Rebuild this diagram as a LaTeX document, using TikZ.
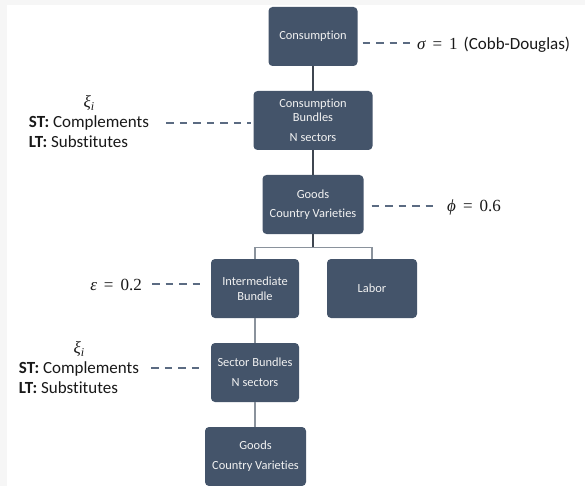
\documentclass[tikz,border=0pt]{standalone}
\usepackage{fontspec}
\setmainfont[Ligatures={NoCommon}]{Carlito}
\newfontfamily\grk{Liberation Serif}
\usetikzlibrary{calc}
\definecolor{boxfill}{HTML}{44546A}
\definecolor{boxtext}{HTML}{F2F2F2}
\definecolor{darkline}{HTML}{3F4650}
\definecolor{greyline}{HTML}{8A929C}
\definecolor{dashcol}{HTML}{5B6B82}
\definecolor{edgegrey}{HTML}{F6F6F6}
\newcommand{\gv}[1]{{\grk\itshape #1}}
\newcommand{\gr}[1]{{\grk #1}}
\newcommand{\eqsign}{\hspace{7pt}\gr{=}\hspace{7pt}}
\tikzset{
  box/.style={draw=none, fill=boxfill, rounded corners=4pt, text=boxtext, align=center,
    inner sep=0pt, minimum height=59pt, font=\fontsize{12.4}{14.5}\selectfont},
  link/.style={draw=darkline, line width=1.2pt},
  linkgrey/.style={draw=greyline, line width=1.2pt},
  anno/.style={inner sep=0pt, font=\fontsize{17}{20}\selectfont, text=black!90},
  dashline/.style={draw=dashcol, line width=1.8pt, dash pattern=on 7.5pt off 6pt},
}
\begin{document}
\begin{tikzpicture}[x=1pt,y=-1pt]
\useasboundingbox (0,0) rectangle (585,486);
\fill[edgegrey] (0,0) rectangle (585,486);
\fill[white] (7,5) rectangle (585,486);

% boxes
\node[box, minimum width=89pt]  (cons)  at (313,36.5)  {Consumption};
\node[box, minimum width=119pt] (bund)  at (313,120.5) {Consumption\\Bundles\\[5.5pt]N sectors};
\node[box, minimum width=101pt] (goods) at (313,204.5) {Goods\\[4.5pt]Country Varieties};
\node[box, minimum width=88pt]  (inter) at (255,288.5) {Intermediate\\Bundle};
\node[box, minimum width=90pt]  (labor) at (372,288.5) {Labor};
\node[box, minimum width=88pt]  (sect)  at (255,372.5) {Sector Bundles\\[5.5pt]N sectors};
\node[box, minimum width=101pt] (goods2) at (255.5,456.5) {Goods\\[5.5pt]Country Varieties};

% connectors
\draw[link] (cons.south) -- (bund.north);
\draw[link] (bund.south) -- (goods.south |- goods.north);
\draw[link] (goods.south) -- ++(0,13) coordinate (br);
\draw[linkgrey] (inter.north) |- (br) -| (labor.north);
\draw[linkgrey] (inter.south) -- (sect.north);
\draw[linkgrey] (sect.south) -- (goods2.north -| sect.south);

% annotations
\node[anno, anchor=west] (sig) at (417,45) {\gv{σ}\eqsign\gr{1}\hspace{6pt}(Cobb-Douglas)};
\node[anno, anchor=west] (phi) at (447,207) {\gv{ϕ}\eqsign\gr{0.6}};
\node[anno, anchor=east] (eps) at (142,285) {\gv{ε}\eqsign\gr{0.2}};
\node[anno] (xi1) at (89,123.5) {\begin{tabular}{@{}l@{}}\multicolumn{1}{@{}c@{}}{\gv{ξ}\raisebox{-3pt}{\fontsize{12}{12}\selectfont\gv{i}}}\\\textbf{ST:} Complements\\\textbf{LT:} Substitutes\end{tabular}};
\node[anno] (xi2) at (79,369) {\begin{tabular}{@{}l@{}}\multicolumn{1}{@{}c@{}}{\gv{ξ}\raisebox{-3pt}{\fontsize{12}{12}\selectfont\gv{i}}}\\\textbf{ST:} Complements\\\textbf{LT:} Substitutes\end{tabular}};

\draw[dashline] ($(cons.east |- sig.west)+(5,-2)$) -- ($(sig.west)+(-7,-2)$);
\draw[dashline] ($(goods.east |- phi.west)+(8,-1)$) -- ($(phi.west)+(-9,-1)$);
\draw[dashline] ($(eps.east)+(10,-1)$) -- ($(inter.west |- eps.east)+(-6,-1)$);
\draw[dashline] ($(xi1.east)+(17,-0.5)$) -- ($(bund.west |- xi1.east)+(-2,-0.5)$);
\draw[dashline] ($(xi2.east)+(12,-1)$) -- ($(sect.west |- xi2.east)+(-6,-1)$);
\end{tikzpicture}
\end{document}
